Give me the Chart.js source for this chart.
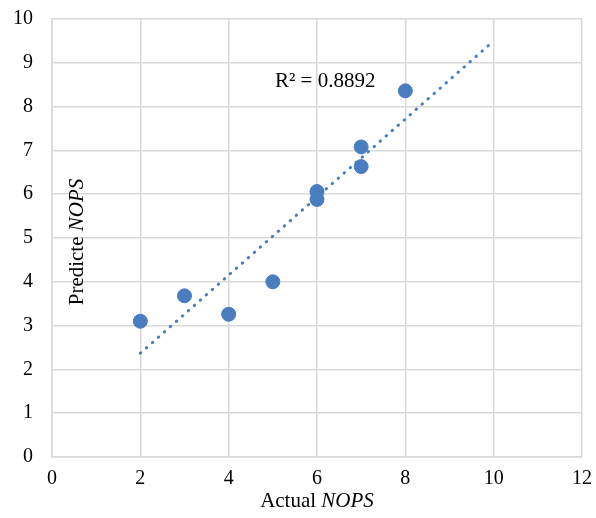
<!DOCTYPE html>
<html>
<head>
<meta charset="utf-8">
<script src="https://cdn.jsdelivr.net/npm/chart.js@4"></script>
<style>
  html, body { margin: 0; padding: 0; background: #fff; }
  #wrap { width: 596px; height: 518px; }
</style>
</head>
<body>
<div id="wrap"><canvas id="scatterChart"></canvas></div>
<script>
// Actual vs predicted NOPS
const actualNops = [2, 3, 4, 5, 6, 6, 7, 7, 8];
const predictedNops = [3.1, 3.68, 3.26, 4.0, 6.06, 5.88, 7.08, 6.63, 8.36];

// Linear trendline end points
const trendX = [2, 9.9];
const trendY = [2.37, 9.41];

const xTicks = [0, 2, 4, 6, 8, 10, 12];
const yTicks = [0, 1, 2, 3, 4, 5, 6, 7, 8, 9, 10];
const r2Text = 'R² = 0.8892';

const serif = "'Liberation Serif', 'DejaVu Serif', serif";
const blue = '#4a7dbf';
const gridGray = '#d9d9d9';

// draws the mixed roman/italic axis titles and the R² label
const textPlugin = {
    id: 'textPlugin',
    afterDraw(chart) {
        const ctx = chart.ctx;
        const area = chart.chartArea;
        ctx.save();
        ctx.fillStyle = '#000';
        ctx.textBaseline = 'alphabetic';

        // x title: "Actual NOPS"
        const roman = '21px ' + serif;
        const italic = 'italic 21px ' + serif;
        ctx.font = roman;
        const w1 = ctx.measureText('Actual ').width;
        ctx.font = italic;
        const w2 = ctx.measureText('NOPS').width;
        let x0 = (area.left + area.right) / 2 - (w1 + w2) / 2;
        ctx.font = roman;
        ctx.textAlign = 'left';
        ctx.fillText('Actual ', x0, 507);
        ctx.font = italic;
        ctx.fillText('NOPS', x0 + w1, 507);

        // y title: "Predicte NOPS", rotated, sitting inside the plot
        ctx.save();
        ctx.translate(83, 242);
        ctx.rotate(-Math.PI / 2);
        ctx.font = roman;
        const w3 = ctx.measureText('Predicte ').width;
        ctx.font = italic;
        const w4 = ctx.measureText('NOPS').width;
        x0 = -(w3 + w4) / 2;
        ctx.font = roman;
        ctx.fillText('Predicte ', x0, 0);
        ctx.font = italic;
        ctx.fillText('NOPS', x0 + w3, 0);
        ctx.restore();

        // R² label
        ctx.font = '21px ' + serif;
        ctx.fillText(r2Text, 275, 87);
        ctx.restore();
    }
};

const ctx = document.getElementById('scatterChart').getContext('2d');
const scatterChart = new Chart(ctx, {
    type: 'scatter',
    data: {
        datasets: [
            {
                label: 'Predicted',
                data: actualNops.map((x, i) => ({ x: x, y: predictedNops[i] })),
                backgroundColor: blue,
                borderColor: blue,
                pointRadius: 7,
                pointHoverRadius: 7,
                order: 1
            },
            {
                label: 'Linear trend',
                type: 'line',
                data: trendX.map((x, i) => ({ x: x, y: trendY[i] })),
                borderColor: blue,
                borderWidth: 3,
                borderDash: [0.5, 7.5],
                borderCapStyle: 'round',
                pointRadius: 0,
                fill: false,
                order: 2
            }
        ]
    },
    options: {
        responsive: true,
        maintainAspectRatio: false,
        animation: false,
        layout: { padding: { top: 19, right: 14, left: 0, bottom: 0 } },
        plugins: {
            legend: { display: false },
            tooltip: { enabled: false }
        },
        scales: {
            x: {
                type: 'linear',
                min: 0,
                max: 12,
                afterBuildTicks: (axis) => { axis.ticks = xTicks.map(v => ({ value: v })); },
                afterFit: (axis) => {
                    axis.height = 61;
                    axis.paddingLeft = 0;
                    axis.paddingRight = 0;
                },
                ticks: {
                    color: '#000',
                    font: { family: serif, size: 20 },
                    padding: 10
                },
                grid: { color: gridGray, lineWidth: 1.5, drawTicks: false },
                border: { color: gridGray, width: 1.5 }
            },
            y: {
                type: 'linear',
                min: 0,
                max: 10,
                afterBuildTicks: (axis) => { axis.ticks = yTicks.map(v => ({ value: v })); },
                afterFit: (axis) => {
                    axis.width = 52;
                    axis.paddingTop = 0;
                    axis.paddingBottom = 0;
                },
                ticks: {
                    color: '#000',
                    font: { family: serif, size: 20 },
                    padding: 19
                },
                grid: { color: gridGray, lineWidth: 1.5, drawTicks: false },
                border: { color: gridGray, width: 1.5 }
            }
        }
    },
    plugins: [textPlugin]
});
</script>
</body>
</html>
